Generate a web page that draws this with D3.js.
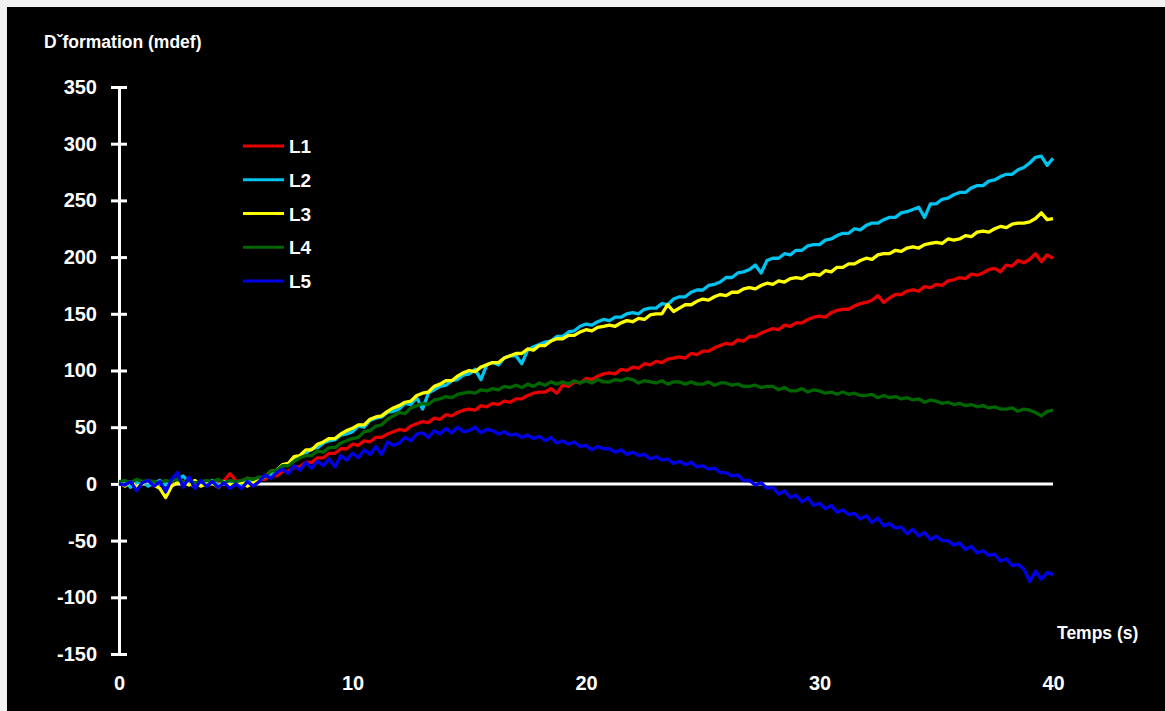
<!DOCTYPE html>
<html>
<head>
<meta charset="utf-8">
<script src="https://cdn.jsdelivr.net/npm/d3@7"></script>
<style>
  html, body { margin: 0; padding: 0; background: #f2f2f2; }
  svg { display: block; }
  text { font-family: Arial, "Liberation Sans", sans-serif; font-weight: bold; fill: #fff; }
</style>
</head>
<body>
<svg id="chart" width="1165" height="711"></svg>
<script>
// Sampling: one reading every 0.25 s from 0 to 40 s
const timeStep = 0.25;
const timeMax = 40;

const seriesNames = ["L1", "L2", "L3", "L4", "L5"];
const seriesColors = ["#e60000", "#00c3f0", "#ffff00", "#006600", "#0000e6"];

const yTicks = [-150, -100, -50, 0, 50, 100, 150, 200, 250, 300, 350];
const xTicks = [0, 10, 20, 30, 40];

const L1 = [0,1,-1,2, 1,3,-2,2, 0,-1,2,1, 3,0,2,-1, 2,1,3,9, 3,2,5,4,
  4,4,8,7, 11,11,15,15, 19,19,23,23, 27,27,31,31, 35,34,38,37, 41,41,44,46,
  48,47,51,53, 55,54,58,57, 61,60,63,65, 66,65,69,68, 71,70,73,72, 75,75,78,80,
  81,81,84,80, 87,86,90,89, 93,92,95,97, 98,97,101,100, 103,102,106,105, 108,107,110,111,
  112,111,115,114, 117,117,120,122, 124,123,127,126, 130,130,133,135, 137,136,140,139,
  142,142,145,147, 148,147,151,153, 154,154,157,159, 160,162,166,160, 164,167,167,170,
  171,170,174,173, 176,175,179,180, 182,181,185,184, 186,189,190,187, 193,192,197,195,
  198,203,196,202, 199];

const L2 = [0,2,-3,1, 2,-2,1,3, -1,2,4,7, 1,-3,2,0, 3,-1,2,1, 0,-2,3,1,
  3,7,8,12, 16,17,23,24, 27,31,32,36, 38,39,43,44, 46,51,50,56, 58,59,63,64,
  66,71,70,76, 66,80,83,86, 87,91,92,96, 97,101,92,105, 107,105,111,113, 113,106,118,121,
  123,125,126,130, 130,134,135,139, 141,140,143,145, 144,147,147,150, 151,150,154,155,
  155,159,158,163, 165,165,169,171, 171,175,176,178, 182,182,186,187, 189,193,186,197,
  199,199,203,202, 206,206,210,211, 211,215,216,219, 221,221,225,224, 228,230,230,233,
  235,235,239,240, 242,244,235,247, 247,251,252,255, 257,257,261,263, 263,267,268,271,
  273,273,277,279, 283,288,289,281, 287];

const L3 = [1,-2,2,-3, 0,3,-1,-4, -12,-2,1,2, -1,3,-2,0, 1,-3,2,-1, 0,2,-2,1,
  5,6,11,12, 17,18,24,25, 30,30,35,37, 40,40,44,47, 49,52,52,57, 59,60,64,67,
  69,72,73,78, 80,81,86,88, 91,91,95,98, 100,99,103,105, 107,107,111,113, 115,115,119,118,
  122,122,126,128, 128,131,131,134, 136,135,138,139, 140,139,142,144, 143,146,145,149,
  150,150,158,152, 155,158,158,161, 163,162,165,167, 166,169,169,172, 173,172,175,177,
  176,179,178,181, 182,181,184,185, 184,188,187,191, 191,194,194,197, 199,198,202,203,
  203,206,205,208, 209,208,211,212, 213,212,216,215, 216,219,218,222, 223,222,225,227,
  226,229,230,230, 231,234,239,233, 234];

const L4 = [2,3,1,4, 2,3,2,1, 3,2,4,2, 3,1,2,3, 2,4,1,3, 2,3,5,4,
  6,6,11,12, 16,16,20,23, 25,25,29,28, 32,32,36,38, 40,41,46,47, 51,52,57,60,
  63,62,67,69, 71,70,74,75, 77,76,79,80, 81,80,83,82, 84,83,86,85, 87,85,88,86,
  89,87,90,88, 90,88,91,89, 91,89,92,90, 90,92,91,93, 92,89,91,90,
  89,91,88,90, 90,88,90,88, 88,90,87,89, 89,87,88,86, 86,87,85,86,
  86,83,85,82, 82,84,81,83, 82,80,81,79, 81,79,80,78, 78,79,76,78,
  76,77,75,76, 74,75,72,74, 73,71,72,70, 71,69,70,68, 69,67,68,66,
  66,67,64,66, 65,63,60,64, 65];

const L5 = [0,-1,2,-6, 1,3,-2,2, -7,4,10,-3, 6,-4,3,-2, 2,-3,1,-4, 0,-4,2,-2,
  2,8,5,10, 13,9,16,12, 19,14,20,16, 22,15,25,21, 27,23,30,26, 33,26,37,34,
  36,41,38,44, 45,41,47,44, 49,45,50,46, 47,50,45,48, 47,44,46,43, 44,41,43,40,
  42,38,41,36, 38,35,37,33, 34,30,33,31, 31,28,30,26, 28,25,26,22,
  24,21,22,18, 20,17,19,15, 16,13,14,10, 10,7,8,3, 3,-1,1,-4,
  -3,-9,-6,-12, -10,-16,-12,-19, -17,-22,-19,-25, -23,-27,-26,-31, -28,-34,-30,-37,
  -35,-39,-38,-44, -40,-46,-43,-49, -46,-50,-50,-54, -52,-58,-55,-61, -59,-63,-62,-68,
  -66,-72,-71,-75, -86,-77,-84,-78, -80];

const seriesValues = [L1, L2, L3, L4, L5];
const times = d3.range(0, timeMax + timeStep / 2, timeStep);

const W = 1165, H = 711;
const svg = d3.select("#chart");

// Black plot panel
svg.append("rect")
  .attr("x", 7).attr("y", 7)
  .attr("width", W - 7).attr("height", H - 7)
  .attr("fill", "#000");

const x = d3.scaleLinear().domain([0, 40]).range([119, 1053]);
const y = d3.scaleLinear().domain([-150, 350]).range([654, 87]);

// Plain hyphen for negative labels
const fmt = d => String(d);

// Zero reference line
svg.append("line")
  .attr("x1", x(0)).attr("x2", x(40))
  .attr("y1", y(0)).attr("y2", y(0))
  .attr("stroke", "#fff").attr("stroke-width", 3);

// Y axis with ticks crossing the axis line
const yAxis = svg.append("g")
  .attr("transform", `translate(${x(0)},0)`)
  .call(d3.axisLeft(y).tickValues(yTicks).tickFormat(fmt).tickSize(8).tickPadding(14).tickSizeOuter(0));
yAxis.select(".domain").attr("stroke", "#fff").attr("stroke-width", 3);
yAxis.selectAll(".tick line").attr("x1", 8).attr("stroke", "#fff").attr("stroke-width", 3);
yAxis.selectAll(".tick text")
  .attr("fill", "#fff").attr("font-size", 20)
  .attr("font-family", "Arial, 'Liberation Sans', sans-serif").attr("font-weight", "bold");

// X axis: labels only
const xAxis = svg.append("g")
  .attr("transform", `translate(0,${y(-150)})`)
  .call(d3.axisBottom(x).tickValues(xTicks).tickFormat(fmt).tickSize(0).tickPadding(22));
xAxis.select(".domain").remove();
xAxis.selectAll(".tick text")
  .attr("fill", "#fff").attr("font-size", 20)
  .attr("font-family", "Arial, 'Liberation Sans', sans-serif").attr("font-weight", "bold");

// Axis titles
svg.append("text").attr("x", 44).attr("y", 48)
  .attr("font-size", 17.5).text("Dˇformation (mdef)");
svg.append("text").attr("x", 1057).attr("y", 639)
  .attr("font-size", 17.5).text("Temps (s)");

// Series lines
const line = d3.line()
  .x((d, i) => x(times[i]))
  .y(d => y(d));

seriesValues.forEach((vals, k) => {
  svg.append("path")
    .datum(vals)
    .attr("fill", "none")
    .attr("stroke", seriesColors[k])
    .attr("stroke-width", 3.3)
    .attr("stroke-linejoin", "round")
    .attr("d", line);
});

// Legend
const legend = svg.append("g").attr("transform", "translate(243,146)");
seriesNames.forEach((name, k) => {
  const g = legend.append("g").attr("transform", `translate(0,${k * 33.75})`);
  g.append("line").attr("x1", 0).attr("x2", 41).attr("y1", 0).attr("y2", 0)
    .attr("stroke", seriesColors[k]).attr("stroke-width", 3);
  g.append("text").attr("x", 46).attr("y", 7).attr("font-size", 19).text(name);
});
</script>
</body>
</html>
